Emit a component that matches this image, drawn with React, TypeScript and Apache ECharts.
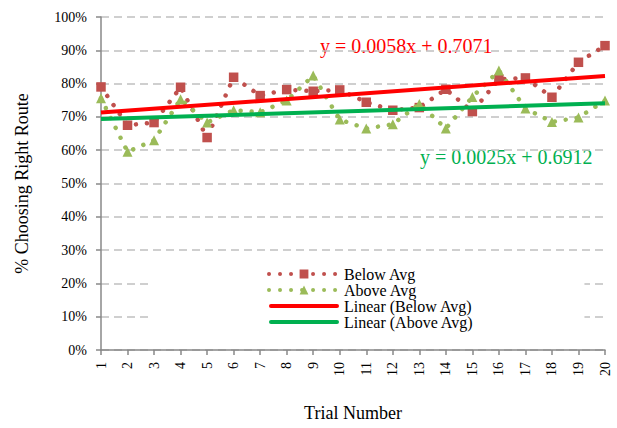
import React, { useEffect, useRef } from "react";
import * as echarts from "echarts";

const trials = [1, 2, 3, 4, 5, 6, 7, 8, 9, 10, 11, 12, 13, 14, 15, 16, 17, 18, 19, 20];
const belowAvg = [79.0, 67.5, 68.3, 78.9, 63.8, 81.9, 76.4, 78.2, 77.7, 78.1, 74.4, 72.0, 72.8, 78.3, 71.6, 81.3, 81.7, 75.9, 86.4, 91.4];
const aboveAvg = [75.6, 59.5, 63.0, 75.3, 68.3, 72.0, 71.4, 74.9, 82.4, 69.2, 66.5, 67.8, 73.9, 66.5, 76.0, 83.9, 72.5, 68.5, 69.8, 74.9];
const trendX = [1, 20];
const trendBelow = [71.29, 82.31];
const trendAbove = [69.37, 74.12];
const yTicks = [0, 10, 20, 30, 40, 50, 60, 70, 80, 90, 100];
const eqBelow = "y = 0.0058x + 0.7071";
const eqAbove = "y = 0.0025x + 0.6912";

const FONT = "Liberation Serif";

export default function App() {
  const ref = useRef<HTMLDivElement>(null);
  useEffect(() => {
    if (!ref.current) return;
    const chart = echarts.init(ref.current, undefined, { renderer: "svg" });
    const pair = (xs: number[], ys: number[]) => xs.map((x, i) => [x, ys[i]]);
    const dotted = { width: 4.5, type: [0.01, 11], cap: "round" as const };
    chart.setOption({
      animation: false,
      backgroundColor: "#fff",
      textStyle: { fontFamily: FONT },
      grid: { left: 101, right: 12, top: 17, bottom: 78, containLabel: false, outerBoundsMode: "none" },
      xAxis: {
        type: "value",
        min: 1,
        max: 20,
        interval: 1,
        name: "Trial Number",
        nameLocation: "middle",
        nameGap: 54,
        nameTextStyle: { fontFamily: FONT, fontSize: 18, color: "#000" },
        axisLine: { lineStyle: { color: "#888", width: 1.5 } },
        axisTick: { show: true, length: 5, lineStyle: { color: "#888", width: 1.5 } },
        axisLabel: { rotate: 90, fontFamily: FONT, fontSize: 14, color: "#000", margin: 12 },
        splitLine: { show: false },
      },
      yAxis: {
        type: "value",
        min: 0,
        max: 100,
        interval: 10,
        name: "% Choosing Right Route",
        nameLocation: "middle",
        nameGap: 70,
        nameRotate: 90,
        nameTextStyle: { fontFamily: FONT, fontSize: 18, color: "#000" },
        axisLine: { show: true, lineStyle: { color: "#888", width: 1.5 } },
        axisTick: { show: true, length: 5, lineStyle: { color: "#888", width: 1.5 } },
        axisLabel: {
          fontFamily: FONT,
          fontSize: 14,
          color: "#000",
          margin: 14,
          formatter: (v: number) => (yTicks.includes(Math.round(v)) ? Math.round(v) + "%" : ""),
        },
        splitLine: { show: true, lineStyle: { color: "#c0c0c0", width: 1.5, type: [8, 5] } },
      },
      legend: {
        orient: "vertical",
        left: 150,
        top: 256,
        padding: [10, 111, 14, 117],
        backgroundColor: "#fff",
        itemWidth: 70,
        itemHeight: 11,
        itemGap: 0,
        textStyle: { fontFamily: FONT, fontSize: 16, lineHeight: 16, color: "#000" },
        lineStyle: { width: 4 },
        data: [
          { name: "Below Avg" },
          { name: "Above Avg" },
          { name: "Linear (Below Avg)", icon: "path://M2,0H68A2,2,0,0,1,68,4H2A2,2,0,0,1,2,0Z" },
          { name: "Linear (Above Avg)", icon: "path://M2,0H68A2,2,0,0,1,68,4H2A2,2,0,0,1,2,0Z" },
        ],
      },
      graphic: [
        {
          type: "text",
          x: 320,
          y: 46,
          style: { text: eqBelow, fill: "#ff0000", font: `20px ${FONT}`, verticalAlign: "middle" },
        },
        {
          type: "text",
          x: 420,
          y: 157,
          style: { text: eqAbove, fill: "#00b050", font: `20px ${FONT}`, verticalAlign: "middle" },
        },
      ],
      series: [
        {
          name: "Below Avg",
          type: "line",
          data: pair(trials, belowAvg),
          symbol: "rect",
          symbolSize: 9.5,
          color: "#c0504d",
          itemStyle: { color: "#c0504d" },
          lineStyle: { ...dotted, color: "#c0504d" },
          z: 2,
        },
        {
          name: "Above Avg",
          type: "line",
          data: pair(trials, aboveAvg),
          symbol: "triangle",
          symbolSize: 10,
          color: "#9bbb59",
          itemStyle: { color: "#9bbb59" },
          lineStyle: { ...dotted, color: "#9bbb59" },
          z: 3,
        },
        {
          name: "Linear (Below Avg)",
          type: "line",
          data: pair(trendX, trendBelow),
          symbol: "none",
          color: "#ff0000",
          itemStyle: { color: "#ff0000" },
          lineStyle: { width: 4, color: "#ff0000" },
          z: 4,
        },
        {
          name: "Linear (Above Avg)",
          type: "line",
          data: pair(trendX, trendAbove),
          symbol: "none",
          color: "#00b050",
          itemStyle: { color: "#00b050" },
          lineStyle: { width: 4, color: "#00b050" },
          z: 4,
        },
      ],
    });
    return () => chart.dispose();
  }, []);
  return <div ref={ref} style={{ width: 617, height: 428, position: "absolute", left: 0, top: 0 }} />;
}
